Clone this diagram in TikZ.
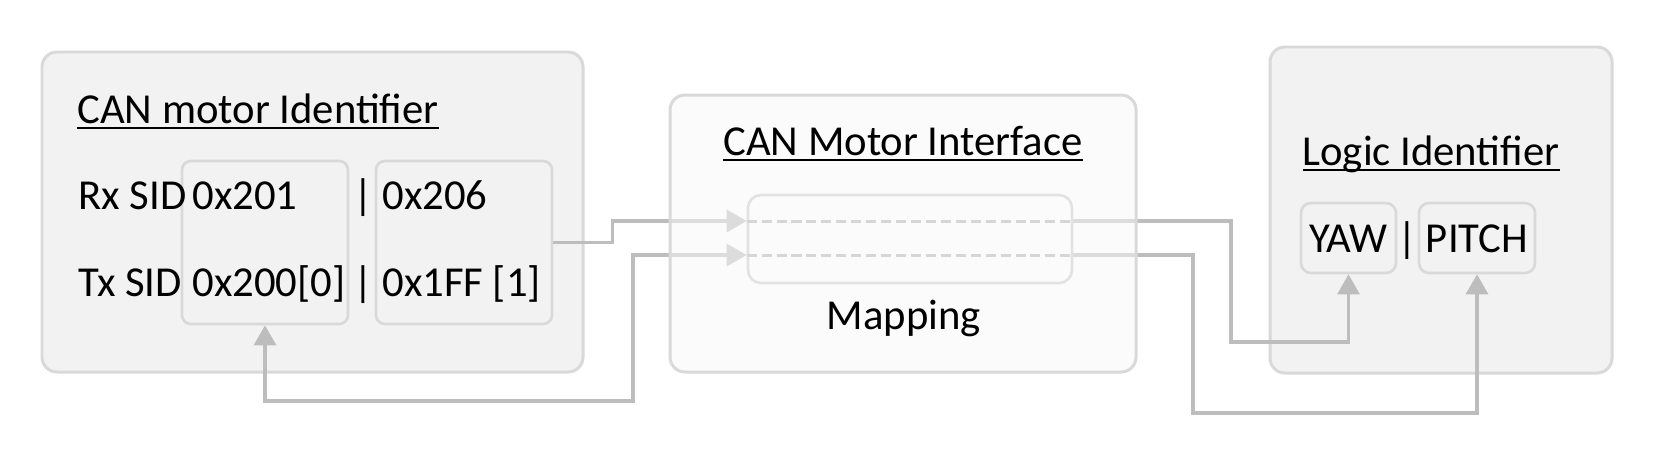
\documentclass[tikz,border=0pt]{standalone}
\usepackage{fontspec}
\setmainfont{Carlito}
\usepackage{xcolor}
\usepackage{tikz}
\usetikzlibrary{arrows.meta,fit}
\definecolor{PanelFill}{RGB}{242,242,242}
\definecolor{PanelEdge}{RGB}{217,217,217}
\definecolor{MidFill}{RGB}{247,247,247}
\definecolor{MapEdge}{RGB}{226,226,226}
\definecolor{WireGray}{RGB}{189,189,189}
\definecolor{DashGray}{RGB}{214,214,214}
\newcommand\titleul[1]{\setbox0=\hbox{#1}\rlap{\rule[-3.4pt]{\wd0}{1.2pt}}\box0}
\pgfdeclarelayer{front}
\pgfsetlayers{main,front}
\tikzset{
  panel/.style={draw=PanelEdge,fill=PanelFill,line width=1.7pt,rounded corners=8.5pt,inner sep=0pt},
  slot/.style={draw=PanelEdge,line width=1.5pt,rounded corners=5pt,inner sep=0pt},
  txt/.style={inner sep=0pt,font=\fontsize{24.3}{29}\selectfont},
  wire/.style={draw=WireGray,line width=1.8pt,-{Triangle[length=0.4cm,width=0.44cm]}},
  seam/.style={draw=DashGray,line width=1.7pt,dash pattern=on 5.7pt off 2.8pt}
}

\begin{document}
\begin{tikzpicture}[x=0.02cm,y=-0.02cm]
  \useasboundingbox (0,0) rectangle (1662,464);
  \coordinate (laneA) at (0,221);
  \coordinate (laneB) at (0,255);

  % CAN motor identifier
  \node[panel,fit={(42,52) (583,372)}] (canid) {};
  \node[slot,fit={(182,161) (348,324)}] (slotL) {};
  \node[slot,fit={(376,161) (552,324)}] (slotR) {};
  \node[txt,anchor=base west] (canidt) at (77,123) {\titleul{CAN motor Identifier}};
  \node[txt,anchor=base west] (rxlbl) at (78,209) {Rx SID};
  \node[txt,anchor=base west] (rxa) at (192,209) {0x201};
  \node[txt,anchor=base] (rxbar) at (363,209) {|};
  \node[txt,anchor=base west] (rxb) at (382,209) {0x206};
  \node[txt,anchor=base west] (txlbl) at (78,296) {Tx SID};
  \node[txt,anchor=base west] (txa) at (192,296) {0x200[0]};
  \node[txt,anchor=base] (txbar) at (363,296) {|};
  \node[txt,anchor=base west] (txb) at (382,296) {0x1FF [1]};

  % logic identifier
  \node[panel,fit={(1270,47) (1612,373)}] (logid) {};
  \node[txt,anchor=base] (logidt) at (1431,165) {\titleul{Logic Identifier}};
  \node[slot,rounded corners=5.7pt,fit={(1301,203) (1396,273)}] (yaw) {};
  \node[slot,rounded corners=5.7pt,fit={(1419,203) (1535,273)}] (pitch) {};
  \node[txt,anchor=base] (yawt) at (yaw.center |- 0,252) {YAW};
  \node[txt,anchor=base] (sepbar) at (1407,252) {|};
  \node[txt,anchor=base] (pitcht) at (pitch.center |- 0,252) {PITCH};

  % CAN motor interface (drawn over the wires)
  \begin{pgfonlayer}{front}
    \node[panel,fill=MidFill,fill opacity=0.55,text opacity=1,fit={(670,95) (1136,372)}] (cmi) {};
    \node[slot,draw=MapEdge,rounded corners=7.4pt,fit={(748,195) (1072,283)}] (map) {};
    \node[txt,anchor=base] (cmit) at (903,155) {\titleul{CAN Motor Interface}};
    \node[txt,anchor=base] (mapt) at (904,329) {Mapping};
    \draw[seam] (map.west |- laneA) -- (map.east |- laneA);
    \draw[seam] (map.west |- laneB) -- (map.east |- laneB);
  \end{pgfonlayer}

  % wires
  \draw[wire] (slotR.east) -- ++(59,0) |- (map.west |- laneA);
  \draw[wire] (map.east |- laneA) -| (1231,342) -| (yaw.south);
  \draw[wire,{Triangle[length=0.4cm,width=0.44cm]}-{Triangle[length=0.4cm,width=0.44cm]}]
    (slotL.south) |- (633,401) |- (map.west |- laneB);
  \draw[wire] (map.east |- laneB) -| (1193,413) -| (pitch.south);
\end{tikzpicture}
\end{document}
